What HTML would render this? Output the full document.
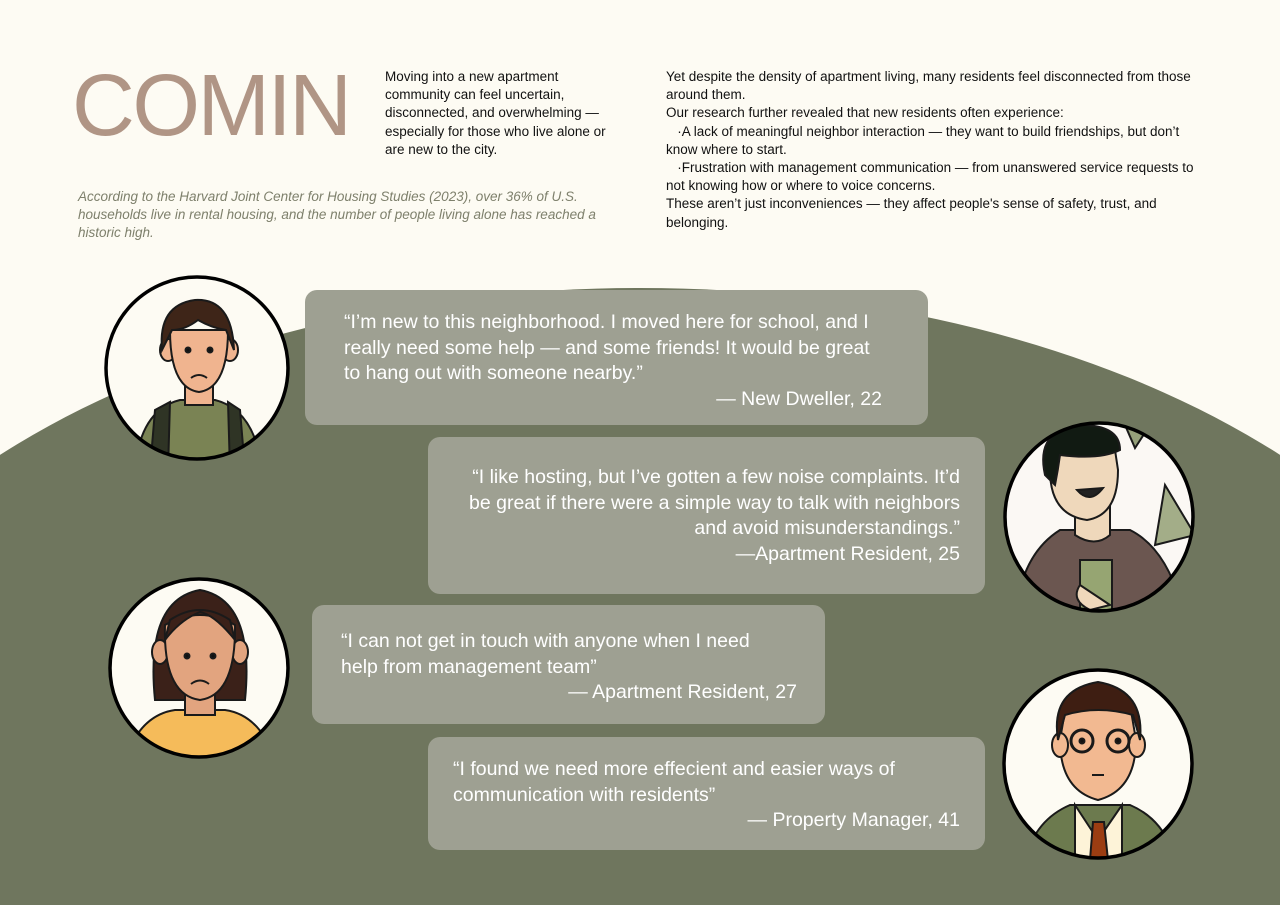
<!DOCTYPE html>
<html><head><meta charset="utf-8"><style>
*{margin:0;padding:0;box-sizing:border-box}
html,body{width:1280px;height:905px;overflow:hidden}
body{background:#fdfbf3;position:relative;font-family:"Liberation Sans",sans-serif}
.abs{position:absolute}
#title{left:72px;top:62px;font-size:87px;color:#b09585;letter-spacing:-2.5px;line-height:1}
.p{font-size:13.5px;line-height:18.2px;color:#111}
.it{font-style:italic;color:#7e806c;font-size:13.5px;line-height:18.2px}
.b{position:absolute;background:#9ea092;border-radius:12px;color:#fff;font-size:19.5px;line-height:25.5px}
.b .a{text-align:right}
</style></head><body>
<svg class="abs" style="left:0;top:0" width="1280" height="905">
<ellipse cx="640" cy="820" rx="880" ry="532" fill="#6f765e"/>
</svg>
<div id="title" class="abs">COMIN</div>
<div class="abs p" style="left:385px;top:68px;width:236px">Moving into a new apartment community can feel uncertain, disconnected, and overwhelming — especially for those who live alone or are new to the city.</div>
<div class="abs it" style="left:78px;top:188px;width:545px">According to the Harvard Joint Center for Housing Studies (2023), over 36% of U.S. households live in rental housing, and the number of people living alone has reached a historic high.</div>
<div class="abs p" style="left:666px;top:68px;width:548px">Yet despite the density of apartment living, many residents feel disconnected from those around them.<br>Our research further revealed that new residents often experience:<br>&nbsp;&nbsp;&nbsp;·A lack of meaningful neighbor interaction — they want to build friendships, but don’t know where to start.<br>&nbsp;&nbsp;&nbsp;·Frustration with management communication — from unanswered service requests to not knowing how or where to voice concerns.<br>These aren’t just inconveniences — they affect people's sense of safety, trust, and belonging.</div>

<div class="b" style="left:305px;top:290px;width:623px;height:135px;padding:20px 46px 0 39px">“I’m new to this neighborhood. I moved here for school, and I really need some help — and some friends! It would be great to hang out with someone nearby.”<div class="a">— New Dweller, 22</div></div>
<div class="b" style="left:428px;top:437px;width:557px;height:157px;padding:28px 25px 0 30px;text-align:right">“I like hosting, but I’ve gotten a few noise complaints. It’d be great if there were a simple way to talk with neighbors and avoid misunderstandings.”<div class="a">—Apartment Resident, 25</div></div>
<div class="b" style="left:312px;top:605px;width:513px;height:119px;padding:24px 28px 0 29px"><div style="width:430px">“I can not get in touch with anyone when I need help from management team”</div><div class="a">— Apartment Resident, 27</div></div>
<div class="b" style="left:428px;top:737px;width:557px;height:113px;padding:20px 25px 0 25px">“I found we need more effecient and easier ways of communication with residents”<div class="a">— Property Manager, 41</div></div>

<svg class="abs" style="left:0;top:0" width="1280" height="905">
<defs>
<clipPath id="c1"><circle cx="197" cy="368" r="91"/></clipPath>
<clipPath id="c2"><circle cx="1099" cy="517" r="94"/></clipPath>
<clipPath id="c3"><circle cx="199" cy="668" r="89"/></clipPath>
<clipPath id="c4"><circle cx="1098" cy="764" r="94"/></clipPath>
</defs>
<g stroke="#1a1a1a" stroke-width="2">
<circle cx="197" cy="368" r="91" fill="#fdfbf3" stroke="none"/>
<g clip-path="url(#c1)">
<path d="M135 470 Q140 410 180 400 L215 400 Q255 410 262 470Z" fill="#7a8354"/>
<path d="M150 470 L155 410 L170 402 L168 470Z M245 470 L240 410 L228 402 L230 470Z" fill="#2f3425"/>
<rect x="185" y="375" width="28" height="30" fill="#f0b48f"/>
<ellipse cx="168" cy="350" rx="8" ry="11" fill="#f0b48f"/><ellipse cx="230" cy="350" rx="8" ry="11" fill="#f0b48f"/>
<path d="M170 330 Q170 388 199 392 Q228 388 228 330Z" fill="#f0b48f"/>
<path d="M162 350 Q158 305 195 300 Q232 298 234 350 L226 330 Q212 328 198 320 Q185 330 172 330Z" fill="#3e2518"/>
<circle cx="188" cy="350" r="2.5" fill="#111"/><circle cx="210" cy="350" r="2.5" fill="#111"/>
<path d="M191 378 Q199 372 207 378" fill="none"/>
</g>
<circle cx="197" cy="368" r="91" fill="none" stroke="#000" stroke-width="3.5"/>
<circle cx="1099" cy="517" r="94" fill="#fbf8f4" stroke="none"/>
<g clip-path="url(#c2)">
<path d="M1125 425 L1150 425 L1135 448Z" fill="#95a07a"/>
<path d="M1165 485 L1155 545 L1195 535Z" fill="#a3ad88"/>
<path d="M1015 620 Q1020 555 1060 530 L1130 530 Q1170 550 1185 620Z" fill="#6b5650"/>
<rect x="1080" y="560" width="32" height="50" fill="#96a572"/>
<path d="M1080 585 Q1070 600 1090 610 L1110 605Z" fill="#efd8bb"/>
<path d="M1075 495 L1075 535 Q1095 548 1110 535 L1110 495Z" fill="#efd8bb"/>
<path d="M1050 470 Q1050 515 1087 520 Q1118 515 1118 470 L1115 450 L1055 450Z" fill="#efd8bb"/>
<path d="M1045 475 Q1035 430 1080 425 Q1120 425 1120 450 Q1100 460 1060 455 Q1058 470 1055 485Z" fill="#111a12"/>
<path d="M1077 490 Q1090 505 1103 488Z" fill="#222"/>
</g>
<circle cx="1099" cy="517" r="94" fill="none" stroke="#000" stroke-width="3.5"/>
<circle cx="199" cy="668" r="89" fill="#fdfbf3" stroke="none"/>
<g clip-path="url(#c3)">
<path d="M155 700 Q145 600 200 590 Q255 600 245 700Z" fill="#3b2119"/>
<path d="M125 760 Q140 715 175 710 L225 710 Q260 715 275 760Z" fill="#f5bb5a"/>
<rect x="185" y="680" width="30" height="35" fill="#e2a47f"/>
<ellipse cx="160" cy="652" rx="8" ry="12" fill="#e2a47f"/><ellipse cx="240" cy="652" rx="8" ry="12" fill="#e2a47f"/>
<path d="M165 625 Q163 695 200 700 Q236 695 235 625 Q200 605 165 625Z" fill="#e2a47f"/>
<path d="M170 620 Q200 600 230 620 L235 640 Q215 615 200 612 Q180 620 165 640Z" fill="#3b2119"/>
<circle cx="187" cy="656" r="2.5" fill="#111"/><circle cx="213" cy="656" r="2.5" fill="#111"/>
<path d="M191 684 Q200 677 209 684" fill="none"/>
</g>
<circle cx="199" cy="668" r="89" fill="none" stroke="#000" stroke-width="3.5"/>
<circle cx="1098" cy="764" r="94" fill="#fdfbf3" stroke="none"/>
<g clip-path="url(#c4)">
<path d="M1025 860 Q1035 820 1070 805 L1130 805 Q1165 820 1175 860Z" fill="#6c7a4e"/>
<path d="M1075 805 L1098 840 L1122 805 L1122 860 L1075 860Z" fill="#fdf3d8"/>
<path d="M1093 822 L1104 822 L1108 860 L1090 860Z" fill="#9b3d12"/>
<path d="M1060 740 Q1060 790 1098 800 Q1136 790 1136 740 L1130 705 L1066 705Z" fill="#f2b991"/>
<ellipse cx="1060" cy="745" rx="8" ry="12" fill="#f2b991"/><ellipse cx="1137" cy="745" rx="8" ry="12" fill="#f2b991"/>
<path d="M1058 740 Q1050 690 1098 682 Q1145 690 1140 740 L1133 715 Q1098 705 1065 715Z" fill="#3e1e12"/>
<circle cx="1082" cy="741" r="11" fill="none" stroke-width="3"/><circle cx="1118" cy="741" r="11" fill="none" stroke-width="3"/>
<circle cx="1082" cy="741" r="2.5" fill="#111"/><circle cx="1118" cy="741" r="2.5" fill="#111"/>
<path d="M1092 775 L1104 775" fill="none"/>
</g>
<circle cx="1098" cy="764" r="94" fill="none" stroke="#000" stroke-width="3.5"/>
</g>
</svg>
</body></html>
